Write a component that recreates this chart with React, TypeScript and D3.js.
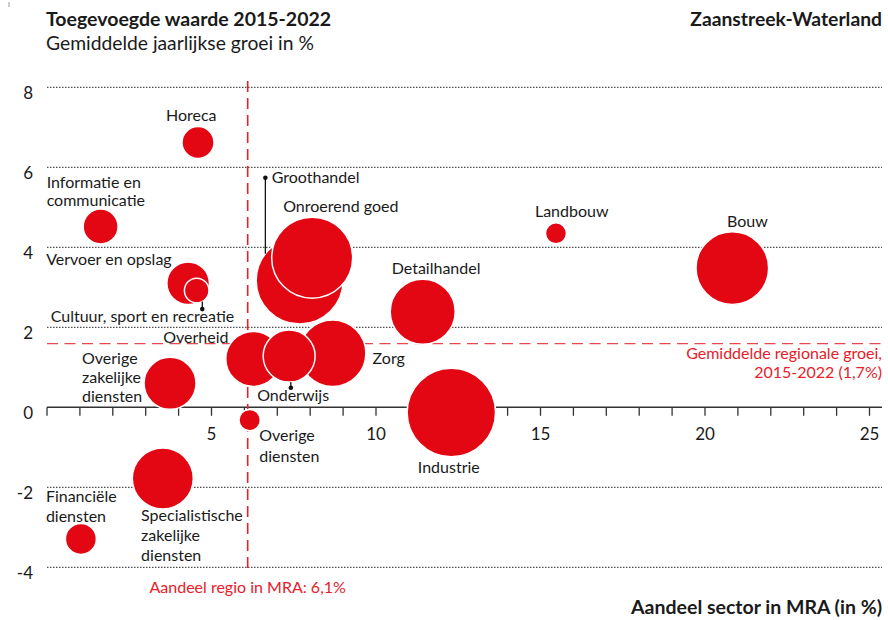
import React from "react";
import * as d3 from "d3";

const W = 888;
const H = 620;

const sectors = [
  "Horeca",
  "Informatie en communicatie",
  "Vervoer en opslag",
  "Cultuur, sport en recreatie",
  "Groothandel",
  "Onroerend goed",
  "Detailhandel",
  "Overheid",
  "Onderwijs",
  "Zorg",
  "Industrie",
  "Landbouw",
  "Bouw",
  "Overige zakelijke diensten",
  "Overige diensten",
  "Specialistische zakelijke diensten",
  "Financiële diensten",
];
// Aandeel sector in MRA (in %)
const share = [4.59, 1.63, 4.29, 4.55, 7.68, 8.06, 11.42, 6.27, 7.36, 8.68, 12.29, 15.47, 20.83, 3.74, 6.16, 3.52, 1.03];
// Gemiddelde jaarlijkse groei in %
const growth = [6.62, 4.52, 3.1, 2.92, 3.17, 3.74, 2.39, 1.21, 1.28, 1.35, -0.13, 4.35, 3.48, 0.6, -0.32, -1.78, -3.29];
// bubble size (relative value added)
const size = [256, 306, 454, 151, 1892, 1640, 1056, 756, 676, 1109, 1954, 110, 1318, 676, 114, 930, 240];

const xTicks = [5, 10, 15, 20, 25];
const yTicks = [-4, -2, 0, 2, 4, 6, 8];
const regionShare = 6.1;
const regionGrowth = 1.59;

// label layout: lines, offset from bubble centre, line height, pointer
const labelLines = [
  ["Horeca"],
  ["Informatie en", "communicatie"],
  ["Vervoer en opslag"],
  ["Cultuur, sport en recreatie"],
  ["Groothandel"],
  ["Onroerend goed"],
  ["Detailhandel"],
  ["Overheid"],
  ["Onderwijs"],
  ["Zorg"],
  ["Industrie"],
  ["Landbouw"],
  ["Bouw"],
  ["Overige", "zakelijke", "diensten"],
  ["Overige", "diensten"],
  ["Specialistische", "zakelijke", "diensten"],
  ["Financiële", "diensten"],
];
const labelDx = [-32, -54, -142, -146, -28, -29, -31, -90, -32, 40, -33.5, -21, -5.3, -88, 9.6, -21.7, -35];
const labelDy = [-22, -39, -18, 31, -97.5, -45.5, -37.4, -16, 44.5, 11, 60, -16.6, -41.3, -19, 21, 42.7, -36.5];
const labelLH = [18, 18.5, 18, 18, 18, 18, 18, 18, 18, 18, 18, 18, 18, 19, 20.5, 20, 19.5];
// pointer: [dx, tipDy] (null = none)
const pointers: (number[] | null)[] = [
  null, null, null, [5.6, 18.6], [-34.3, -102.8], null, null, null, [1.7, 31.7], null, null, null, null, null, null, null, null,
];

const RED = "#e30613";
const RED_LINE = "#e8202a";
const INK = "#1a1a1a";
const FONT = "Lato, 'Open Sans', sans-serif";

export default function App() {
  const x = d3.scaleLinear().domain([0, 25]).range([47, 869.5]);
  const y = d3.scaleLinear().domain([-4, 8]).range([567.3, 87.3]);
  const r = d3.scaleSqrt().domain([0, 2000]).range([0, Math.sqrt(2000)]);

  const items = sectors.map((s, i) => ({
    name: s,
    cx: x(share[i]),
    cy: y(growth[i]),
    r: r(size[i]),
    i,
  }));
  const drawOrder = [...items].sort((a, b) => b.r - a.r);
  const minorTicks = d3.range(0, 26, 1);

  return (
    <svg
      width={W}
      height={H}
      style={{ position: "absolute", left: 0, top: 0, background: "#fff" }}
      fontFamily={FONT}
    >
      <rect width={W} height={H} fill="#fff" />
      <line x1={9} x2={9} y1={2} y2={7} stroke="#999" strokeWidth={1} />
      {/* titles */}
      <text x={46} y={26} fontSize={19.5} fontWeight={700} fill={INK}>
        Toegevoegde waarde 2015-2022
      </text>
      <text x={46} y={50} fontSize={19.3} fill={INK}>
        Gemiddelde jaarlijkse groei in %
      </text>
      <text x={882} y={26} fontSize={19.3} fontWeight={700} fill={INK} textAnchor="end">
        Zaanstreek-Waterland
      </text>
      <text x={882} y={614} fontSize={19.5} fontWeight={700} fill={INK} textAnchor="end">
        Aandeel sector in MRA (in %)
      </text>

      {/* gridlines */}
      {yTicks
        .filter((t) => t !== 0)
        .map((t) => (
          <line
            key={"g" + t}
            x1={47}
            x2={882}
            y1={y(t)}
            y2={y(t)}
            stroke="#222"
            strokeWidth={1}
            strokeDasharray="1.5,1.5"
          />
        ))}
      {yTicks.map((t) => (
        <text key={"yl" + t} x={33} y={y(t) + 12} fontSize={17} fill={INK} textAnchor="end">
          {t}
        </text>
      ))}

      {/* x axis */}
      <line x1={47} x2={882} y1={y(0)} y2={y(0)} stroke="#333" strokeWidth={1.5} />
      {minorTicks.map((t) => (
        <line key={"t" + t} x1={x(t)} x2={x(t)} y1={y(0)} y2={y(0) + 8.5} stroke="#333" strokeWidth={1.3} />
      ))}
      {xTicks.map((t) => (
        <text key={"xl" + t} x={x(t)} y={y(0) + 33} fontSize={17} fill={INK} textAnchor="middle">
          {t}
        </text>
      ))}

      {/* reference lines */}
      <line
        x1={x(regionShare)}
        x2={x(regionShare)}
        y1={81}
        y2={572}
        stroke={RED_LINE}
        strokeWidth={1.6}
        strokeDasharray="11,6"
      />
      <line
        x1={47}
        x2={882}
        y1={y(regionGrowth)}
        y2={y(regionGrowth)}
        stroke="#e8474c"
        strokeWidth={1.3}
        strokeDasharray="11,6.5"
      />
      <text x={x(regionShare)} y={593} fontSize={16} fill={RED_LINE} textAnchor="middle">
        Aandeel regio in MRA: 6,1%
      </text>
      <text x={882} y={359} fontSize={16} fill={RED_LINE} textAnchor="end">
        Gemiddelde regionale groei,
      </text>
      <text x={882} y={377.5} fontSize={16} fill={RED_LINE} textAnchor="end">
        2015-2022 (1,7%)
      </text>

      {/* bubbles */}
      {drawOrder.map((d) => (
        <circle key={d.name} cx={d.cx} cy={d.cy} r={d.r} fill={RED} stroke="#fff" strokeWidth={1.5} />
      ))}

      {/* pointers */}
      {items.map((d) => {
        const p = pointers[d.i];
        if (!p) return null;
        const px = d.cx + p[0];
        const tipY = d.cy + p[1];
        const edge = Math.sqrt(Math.max(0, d.r * d.r - p[0] * p[0]));
        const startY = p[1] < 0 ? d.cy - edge : d.cy + edge;
        return (
          <g key={"p" + d.name}>
            <line x1={px} x2={px} y1={startY} y2={tipY} stroke="#111" strokeWidth={1.3} />
            <circle cx={px} cy={tipY} r={2.3} fill="#111" />
          </g>
        );
      })}

      {/* labels */}
      {items.map((d) => (
        <text
          key={"l" + d.name}
          x={d.cx + labelDx[d.i]}
          y={d.cy + labelDy[d.i]}
          fontSize={16}
          fill={INK}
        >
          {labelLines[d.i].map((ln, k) => (
            <tspan key={k} x={d.cx + labelDx[d.i]} dy={k === 0 ? 0 : labelLH[d.i]}>
              {ln}
            </tspan>
          ))}
        </text>
      ))}
    </svg>
  );
}
